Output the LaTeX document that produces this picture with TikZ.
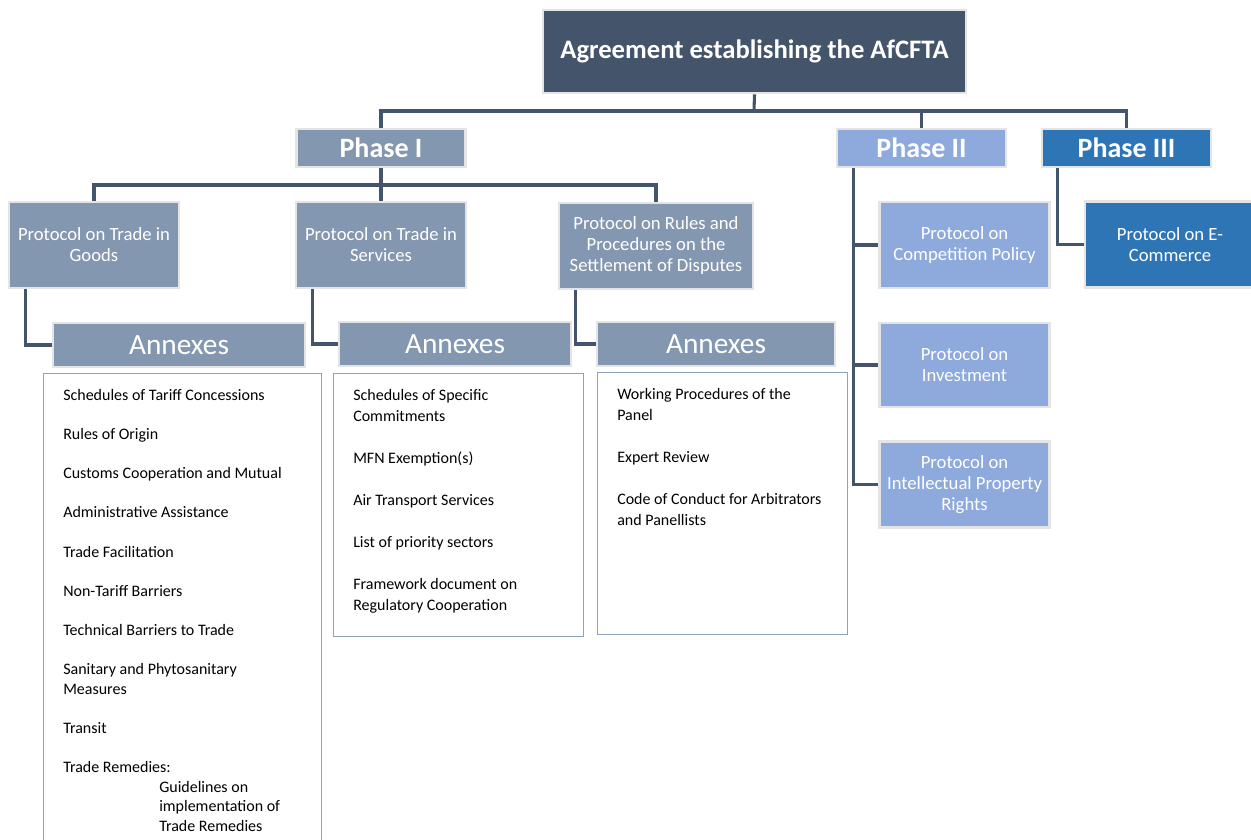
\documentclass[tikz,border=0pt]{standalone}
\usepackage{fontspec}
\setmainfont{Carlito}
\usetikzlibrary{positioning,calc}
\definecolor{slate}{HTML}{44546A}
\definecolor{phaseone}{HTML}{8497B0}
\definecolor{phasetwo}{HTML}{8EA9DB}
\definecolor{phasethree}{HTML}{2E75B6}
\definecolor{rim}{HTML}{E4E4E4}
\definecolor{listrim}{HTML}{8FA2BE}

\begin{document}
\begin{tikzpicture}[x=0.75pt,y=-0.75pt,
  box/.style = {draw=rim, line width=2pt, text=white, inner sep=0pt, align=center},
  head/.style = {box, fill=slate, font=\bfseries\fontsize{20}{24}\selectfont},
  phase/.style = {box, minimum width=126.75pt, minimum height=28.5pt, font=\bfseries\fontsize{21}{25}\selectfont},
  proto/.style = {box, minimum width=127.5pt, minimum height=64.5pt, font=\fontsize{14}{15.75}\selectfont},
  annex/.style = {box, fill=phaseone, minimum height=33pt, font=\fontsize{22}{26}\selectfont},
  listbox/.style = {draw=listrim, line width=0.8pt, inner sep=0pt, anchor=north west},
  listtext/.style = {anchor=north west, inner sep=0pt, align=left},
  conn/.style = {draw=slate, line width=2.3pt}]
\useasboundingbox[fill=white] (0,0) rectangle (1251,839);

% top level
\node[head, minimum width=317.25pt, minimum height=62.25pt] (agreement) at (754.5,51.5) {Agreement establishing the AfCFTA};
\node[phase, fill=phaseone] (phaseI) at (381,148) {Phase I};
\node[phase, fill=phasetwo] (phaseII) at (921.5,148) {Phase II};
\node[phase, fill=phasethree] (phaseIII) at (1126.5,148) {Phase III};

% phase I protocols
\node[proto, fill=phaseone] (goods) at (94,245) {Protocol on Trade in\\Goods};
\node[proto, fill=phaseone] (services) at (381,245) {Protocol on Trade in\\Services};
\node[proto, fill=phaseone, minimum width=145.5pt] (disputes) at (656,246) {Protocol on Rules and\\Procedures on the\\Settlement of Disputes};

\node[annex, minimum width=189pt] (annexG) at (179,345) {Annexes};
\node[annex, minimum width=174pt] (annexS) at (455,344) {Annexes};
\node[annex, minimum width=178.5pt] (annexD) at (716,344) {Annexes};

% phase II and III protocols
\node[proto, fill=phasetwo] (competition) at (964.5,245) {Protocol on\\Competition Policy};
\node[proto, fill=phasetwo, minimum height=63pt] (investment) at (964.5,365) {Protocol on\\Investment};
\node[proto, fill=phasetwo] (property) at (964.5,484.5) {Protocol on\\Intellectual Property\\Rights};
\node[proto, fill=phasethree] (ecommerce) at (1170,244.5) {Protocol on E-\\Commerce};

% annex lists
\node[listbox, minimum width=208.5pt, minimum height=354pt] (goodsbox) at (43,373) {};
\node[listbox, minimum width=187.5pt, minimum height=197.25pt] (servicesbox) at (333,373) {};
\node[listbox, minimum width=187.5pt, minimum height=196.5pt] (disputesbox) at (597,372) {};

\node[listtext, font=\fontsize{12}{14.7}\selectfont] (goodslist) at ([shift={(20,16)}]goodsbox.north west)
  {Schedules of Tariff Concessions\\[14.7pt]
   Rules of Origin\\[14.7pt]
   Customs Cooperation and Mutual\\[14.7pt]
   Administrative Assistance\\[14.7pt]
   Trade Facilitation\\[14.7pt]
   Non-Tariff Barriers\\[14.7pt]
   Technical Barriers to Trade\\[14.7pt]
   Sanitary and Phytosanitary\\
   Measures\\[14.7pt]
   Transit\\[14.7pt]
   Trade Remedies:\\
   \hspace*{72pt}Guidelines on\\
   \hspace*{72pt}implementation of\\
   \hspace*{72pt}Trade Remedies};
\node[listtext, font=\fontsize{12}{15.75}\selectfont] (serviceslist) at ([shift={(20,16)}]servicesbox.north west)
  {Schedules of Specific\\
   Commitments\\[15.75pt]
   MFN Exemption(s)\\[15.75pt]
   Air Transport Services\\[15.75pt]
   List of priority sectors\\[15.75pt]
   Framework document on\\
   Regulatory Cooperation};
\node[listtext, font=\fontsize{12}{15.75}\selectfont] (disputeslist) at ([shift={(20,16)}]disputesbox.north west)
  {Working Procedures of the\\
   Panel\\[15.75pt]
   Expert Review\\[15.75pt]
   Code of Conduct for Arbitrators\\
   and Panellists};

% connectors
\coordinate (topbus) at (754,111);
\coordinate (phasebus) at (381,185);
\draw[conn] (agreement.south) -- (topbus);
\draw[conn] (phaseI.north) |- (topbus) -| (phaseIII.north);
\draw[conn] (phaseII.north) -- (phaseII.north |- topbus);
\draw[conn] (phaseI.south) -- (phasebus);
\draw[conn] (goods.north) |- (phasebus) -| (disputes.north);
\draw[conn] (services.north) -- (services.north |- phasebus);
\draw[conn] ([shift={(18,0)}]goods.south west) |- (annexG.west);
\draw[conn] ([shift={(18,0)}]services.south west) |- (annexS.west);
\draw[conn] ([shift={(18,0)}]disputes.south west) |- (annexD.west);
\draw[conn] ([shift={(18,0)}]phaseII.south west) |- (property.west);
\draw[conn] ([shift={(18,0)}]phaseII.south west |- competition.west) -- (competition.west);
\draw[conn] ([shift={(18,0)}]phaseII.south west |- investment.west) -- (investment.west);
\draw[conn] ([shift={(17,0)}]phaseIII.south west) |- (ecommerce.west);
\end{tikzpicture}
\end{document}
